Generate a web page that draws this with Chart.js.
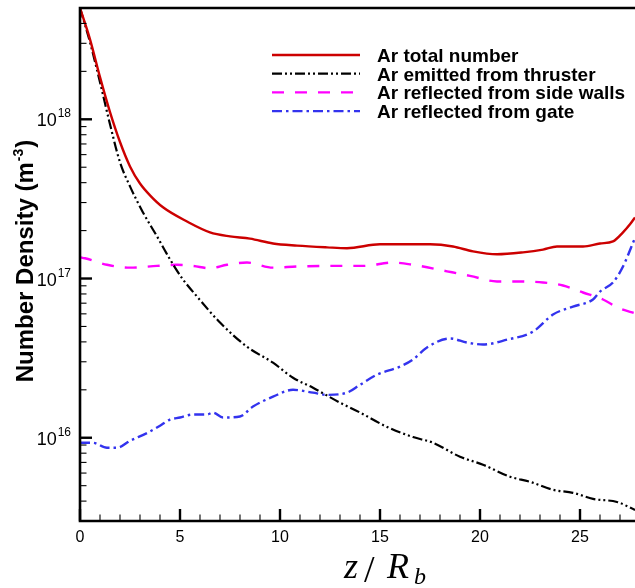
<!DOCTYPE html>
<html>
<head>
<meta charset="utf-8">
<script src="https://cdn.jsdelivr.net/npm/chart.js@4.4.0/dist/chart.umd.min.js"></script>
<style>
  html, body { margin: 0; padding: 0; background: #fff; }
  #wrap { width: 635px; height: 588px; }
</style>
</head>
<body>
<div id="wrap"><canvas id="myChart" width="635" height="588"></canvas></div>
<script>
// Ar total number
var zTotal = [0, 0.5, 1.0, 1.5, 2.0, 2.5, 3.0, 3.5, 4.15, 5.35, 6.5, 7.5, 8.5, 9.65, 10.85, 12.35, 13.35, 15.0, 17.5, 18.65, 19.65, 20.85, 22.15, 23.15, 23.85, 25.15, 26.0, 26.65, 27.15, 27.5, 27.75];
var nTotal = [5.0e18, 3.18e18, 1.84e18, 1.11e18, 7.2e17, 5.06e17, 3.95e17, 3.33e17, 2.8e17, 2.28e17, 1.95e17, 1.84e17, 1.78e17, 1.66e17, 1.61e17, 1.57e17, 1.55e17, 1.64e17, 1.64e17, 1.59e17, 1.48e17, 1.42e17, 1.46e17, 1.52e17, 1.59e17, 1.59e17, 1.66e17, 1.71e17, 1.95e17, 2.19e17, 2.42e17];

// Ar emitted from thruster
var zThr = [0, 0.5, 1.0, 1.5, 2.0, 2.5, 3.15, 3.85, 4.5, 5.15, 5.85, 7.0, 8.35, 9.65, 10.65, 11.65, 13.0, 14.0, 15.35, 16.65, 17.65, 19.0, 20.15, 21.5, 22.5, 23.65, 24.65, 25.65, 26.85, 27.75];
var nThr = [5.0e18, 3.05e18, 1.71e18, 9.3e17, 5.37e17, 3.79e17, 2.6e17, 1.84e17, 1.32e17, 9.86e16, 7.71e16, 5.29e16, 3.73e16, 2.96e16, 2.38e16, 2.06e16, 1.66e16, 1.44e16, 1.17e16, 1.01e16, 9.3e15, 7.6e15, 6.77e15, 5.69e15, 5.29e15, 4.71e15, 4.51e15, 4.13e15, 3.95e15, 3.52e15];

// Ar reflected from side walls
var zWall = [0, 0.25, 1.35, 2.5, 3.85, 4.85, 5.65, 6.5, 7.35, 8.35, 9.65, 10.85, 12.35, 14.15, 15.65, 16.65, 18.35, 19.5, 20.85, 21.85, 23.15, 24.15, 25.15, 26.15, 27.0, 27.75];
var nWall = [1.36e17, 1.34e17, 1.22e17, 1.17e17, 1.2e17, 1.22e17, 1.2e17, 1.16e17, 1.22e17, 1.26e17, 1.17e17, 1.19e17, 1.2e17, 1.2e17, 1.26e17, 1.22e17, 1.11e17, 1.04e17, 9.58e16, 9.58e16, 9.44e16, 9.04e16, 8.17e16, 7.38e16, 6.47e16, 6.05e16];

// Ar reflected from gate
var zGate = [0, 0.65, 1.35, 1.85, 2.5, 3.35, 4.0, 4.5, 5.0, 5.65, 6.35, 6.65, 7.15, 8.0, 8.65, 9.65, 10.65, 11.65, 12.35, 13.35, 14.0, 14.85, 16.0, 16.65, 17.35, 18.5, 19.35, 20.15, 21.35, 22.65, 23.65, 24.65, 25.65, 26.0, 26.65, 27.15, 27.75];
var nGate = [9.3e15, 9.3e15, 8.65e15, 8.65e15, 9.57e15, 1.07e16, 1.19e16, 1.3e16, 1.34e16, 1.4e16, 1.4e16, 1.44e16, 1.34e16, 1.36e16, 1.57e16, 1.81e16, 2.0e16, 1.92e16, 1.86e16, 1.92e16, 2.15e16, 2.49e16, 2.8e16, 3.1e16, 3.69e16, 4.2e16, 3.96e16, 3.85e16, 4.13e16, 4.64e16, 5.94e16, 6.67e16, 7.38e16, 8.28e16, 9.44e16, 1.19e17, 1.8e17];

var seriesNames = ["Ar total number", "Ar emitted from thruster", "Ar reflected from side walls", "Ar reflected from gate"];
var xTicks = [0, 5, 10, 15, 20, 25];
var yTicks = [1e16, 1e17, 1e18];
var yTickExp = ["16", "17", "18"];

function pts(xs, ys) {
  return xs.map(function (x, i) { return { x: x, y: ys[i] }; });
}

var SANS = '"Liberation Sans", Arial, Helvetica, sans-serif';
var SERIF = '"Liberation Serif", "DejaVu Serif", serif';

var tecplotFrame = {
  id: 'tecplotFrame',
  afterDatasetsDraw: function (chart) {
    var ctx = chart.ctx, a = chart.chartArea;
    var xs = chart.scales.x, ys = chart.scales.y;
    ctx.save();
    ctx.strokeStyle = '#000';
    ctx.lineCap = 'butt';

    // frame (left, top, bottom)
    ctx.lineWidth = 2.6;
    ctx.beginPath();
    ctx.moveTo(a.right + 2, a.top);
    ctx.lineTo(a.left, a.top);
    ctx.lineTo(a.left, a.bottom);
    ctx.lineTo(a.right + 2, a.bottom);
    ctx.stroke();

    // x ticks, pointing inward
    for (var i = 0; i <= Math.floor(xs.max); i++) {
      var px = xs.getPixelForValue(i);
      var major = i % 5 === 0;
      ctx.lineWidth = major ? 2.4 : 1.1;
      ctx.beginPath();
      ctx.moveTo(px, a.bottom);
      ctx.lineTo(px, a.bottom - (major ? 12 : 6.5));
      ctx.stroke();
    }
    // y ticks (log), pointing inward
    for (var e = 15; e <= 18; e++) {
      for (var m = 1; m <= 9; m++) {
        var v = m * Math.pow(10, e);
        if (v < ys.min * 0.999 || v > ys.max * 1.001) continue;
        var py = ys.getPixelForValue(v);
        var maj = m === 1;
        ctx.lineWidth = maj ? 2.4 : 1.1;
        ctx.beginPath();
        ctx.moveTo(a.left, py);
        ctx.lineTo(a.left + (maj ? 12 : 6.5), py);
        ctx.stroke();
      }
    }
    ctx.restore();
  },
  afterDraw: function (chart) {
    var ctx = chart.ctx, a = chart.chartArea;
    var xs = chart.scales.x, ys = chart.scales.y;
    ctx.save();
    ctx.fillStyle = '#000';

    // x tick labels
    ctx.font = '16px ' + SANS;
    ctx.textAlign = 'center';
    ctx.textBaseline = 'alphabetic';
    xTicks.forEach(function (t) {
      ctx.fillText(String(t), xs.getPixelForValue(t), a.bottom + 21);
    });

    // y tick labels 10^n
    ctx.textAlign = 'left';
    yTicks.forEach(function (t, i) {
      var py = ys.getPixelForValue(t);
      ctx.font = '12px ' + SANS;
      var ws = ctx.measureText(yTickExp[i]).width;
      ctx.font = '18px ' + SANS;
      var wb = ctx.measureText('10').width;
      var right = 71;
      ctx.fillText('10', right - ws - 1 - wb, py + 7);
      ctx.font = '12px ' + SANS;
      ctx.fillText(yTickExp[i], right - ws, py - 2);
    });

    // y axis title
    ctx.save();
    ctx.translate(33, 261);
    ctx.rotate(-Math.PI / 2);
    var f1 = 'bold 24px ' + SANS, f2 = 'bold 14px ' + SANS;
    ctx.font = f1;
    var w1 = ctx.measureText('Number Density (m').width;
    var w3 = ctx.measureText(')').width;
    ctx.font = f2;
    var w2 = ctx.measureText('-3').width;
    var x0 = -(w1 + w2 + w3 + 2) / 2;
    ctx.font = f1;
    ctx.fillText('Number Density (m', x0, 0);
    ctx.font = f2;
    ctx.fillText('-3', x0 + w1 + 1, -10);
    ctx.font = f1;
    ctx.fillText(')', x0 + w1 + w2 + 2, 0);
    ctx.restore();

    // x axis title z/R_b
    ctx.font = 'italic 36px ' + SERIF;
    ctx.fillText('z', 344, 578);
    ctx.font = '38px ' + SERIF;
    ctx.fillText('/', 364, 582);
    ctx.font = 'italic 36px ' + SERIF;
    ctx.fillText('R', 387, 578);
    ctx.font = 'italic 24px ' + SERIF;
    ctx.fillText('b', 414, 584);

    // legend
    chart.data.datasets.forEach(function (ds, i) {
      var ly = 55 + i * 18.7;
      ctx.save();
      ctx.strokeStyle = ds.borderColor;
      ctx.lineWidth = ds.borderWidth;
      ctx.setLineDash(ds.borderDash || []);
      ctx.beginPath();
      ctx.moveTo(272, ly);
      ctx.lineTo(360, ly);
      ctx.stroke();
      ctx.restore();
      ctx.font = 'bold 19px ' + SANS;
      ctx.fillText(ds.label, 377, ly + 6.8);
    });
    ctx.restore();
  }
};

new Chart("myChart", {
  type: "line",
  data: {
    datasets: [
      { label: seriesNames[0], data: pts(zTotal, nTotal), borderColor: "#cc0000", borderWidth: 2.4, borderDash: [] },
      { label: seriesNames[1], data: pts(zThr, nThr), borderColor: "#000000", borderWidth: 2.2, borderDash: [10, 3, 2, 3, 2, 3] },
      { label: seriesNames[2], data: pts(zWall, nWall), borderColor: "#ff00ff", borderWidth: 2.4, borderDash: [12, 11] },
      { label: seriesNames[3], data: pts(zGate, nGate), borderColor: "#3333ee", borderWidth: 2.4, borderDash: [10, 4, 2.5, 4] }
    ]
  },
  options: {
    responsive: false,
    animation: false,
    layout: { padding: { top: 8, left: 0, right: 0, bottom: 0 } },
    elements: {
      point: { radius: 0 },
      line: { fill: false, cubicInterpolationMode: "monotone" }
    },
    plugins: { legend: { display: false }, tooltip: { enabled: false } },
    scales: {
      x: {
        type: "linear", min: 0, max: 27.75,
        grid: { display: false }, border: { display: false }, ticks: { display: false },
        afterFit: function (s) { s.height = 67; }
      },
      y: {
        type: "logarithmic", min: 3e15, max: 5e18,
        grid: { display: false }, border: { display: false }, ticks: { display: false },
        afterFit: function (s) { s.width = 80; }
      }
    }
  },
  plugins: [tecplotFrame]
});
</script>
</body>
</html>
